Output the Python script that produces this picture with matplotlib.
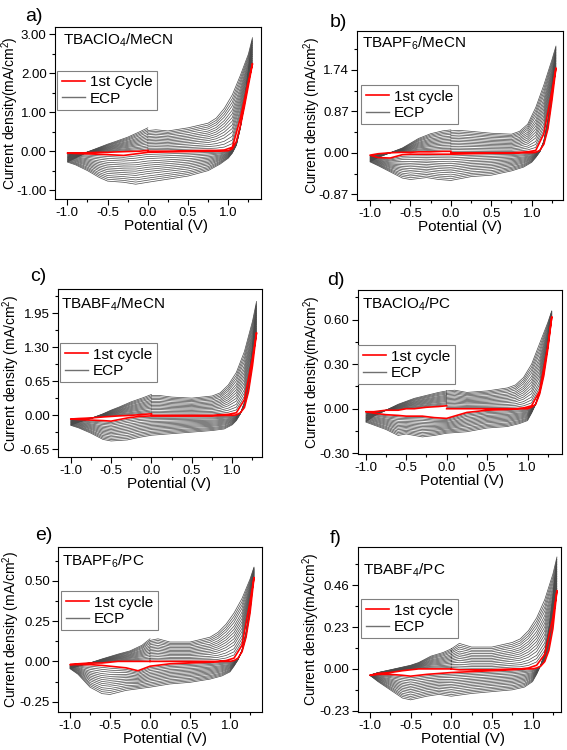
import numpy as np
import matplotlib
matplotlib.use("Agg")
import matplotlib.pyplot as plt
from matplotlib.lines import Line2D
from matplotlib.ticker import MultipleLocator, FixedLocator

plt.rcParams['font.family'] = ['Liberation Sans', 'DejaVu Sans']
plt.rcParams['mathtext.fontset'] = 'custom'
plt.rcParams['mathtext.rm'] = 'Liberation Sans'
plt.rcParams['mathtext.it'] = 'Liberation Sans:italic'
plt.rcParams['mathtext.default'] = 'regular'
plt.rcParams['axes.unicode_minus'] = False

# potentials (V) where currents were read off the picture
# each cycle: 0 -> 1.3 (up), 1.3 -> -1.0 (down), -1.0 -> 0 (back)
E_UP = [0.0, 0.1, 0.25, 0.5, 0.75, 0.85, 0.95, 1.05, 1.15, 1.25, 1.3]
E_DOWN = [1.3, 1.25, 1.2, 1.15, 1.1, 1.05, 1.0, 0.9, 0.75, 0.5, 0.25, 0.0,
          -0.15, -0.3, -0.5, -0.6, -0.75, -0.9, -1.0]
E_BACK = [-1.0, -0.9, -0.75, -0.6, -0.5, -0.4, -0.25, -0.1, 0.0]

# share of the way from the 1st cycle to the last ECP cycle, one per gray loop
CYCLE_FRAC = [0.07, 0.14, 0.21, 0.29, 0.36, 0.43, 0.50, 0.57, 0.64, 0.71,
              0.79, 0.86, 0.93, 1.00]

# a) TBAClO4/MeCN  (mA/cm2)
a_up = [0.53, 0.55, 0.52, 0.6, 0.72, 0.85, 1.1, 1.45, 1.95, 2.5, 2.92]
a_down = [2.92, 2.1, 1.3, 0.6, 0.15, -0.05, -0.18, -0.33, -0.5, -0.64, -0.72,
          -0.8, -0.85, -0.8, -0.77, -0.68, -0.5, -0.35, -0.28]
a_back = [-0.28, -0.18, -0.02, 0.1, 0.18, 0.25, 0.36, 0.5, 0.6]
a_red_up = [0.0, 0.0, 0.0, 0.01, 0.02, 0.02, 0.03, 0.1, 0.85, 1.8, 2.25]
a_red_down = [2.25, 1.7, 1.15, 0.65, 0.25, 0.06, 0.01, 0.0, 0.0, -0.01, -0.02,
              -0.03, -0.07, -0.11, -0.09, -0.08, -0.07, -0.06, -0.05]
a_red_back = [-0.05, -0.05, -0.04, -0.03, -0.03, -0.02, -0.01, 0.0, 0.02]

# b) TBAPF6/MeCN
b_up = [0.46, 0.47, 0.45, 0.41, 0.39, 0.45, 0.6, 0.95, 1.42, 1.95, 2.24]
b_down = [2.24, 1.4, 0.7, 0.25, 0.02, -0.1, -0.2, -0.3, -0.38, -0.47, -0.5,
          -0.58, -0.56, -0.52, -0.56, -0.53, -0.4, -0.27, -0.19]
b_back = [-0.19, -0.1, 0.0, 0.1, 0.2, 0.3, 0.4, 0.46, 0.48]
b_red_up = [0.0, 0.0, 0.0, 0.0, 0.0, 0.01, 0.02, 0.05, 0.4, 1.3, 1.78]
b_red_down = [1.78, 1.1, 0.5, 0.18, 0.05, 0.01, 0.0, 0.0, -0.01, -0.01, -0.02,
              -0.03, -0.03, -0.03, -0.03, -0.04, -0.11, -0.1, -0.05]
b_red_back = [-0.05, -0.02, 0.0, 0.01, 0.01, 0.02, 0.02, 0.03, 0.03]

# c) TBABF4/MeCN
c_up = [0.38, 0.38, 0.35, 0.33, 0.37, 0.43, 0.58, 0.82, 1.22, 1.8, 2.18]
c_down = [2.18, 1.3, 0.65, 0.25, 0.03, -0.1, -0.18, -0.26, -0.29, -0.32, -0.35,
          -0.38, -0.42, -0.47, -0.49, -0.46, -0.34, -0.24, -0.19]
c_back = [-0.19, -0.13, -0.06, 0.03, 0.1, 0.16, 0.26, 0.34, 0.4]
c_red_up = [0.0, 0.0, 0.0, 0.0, 0.0, 0.01, 0.02, 0.05, 0.3, 1.1, 1.58]
c_red_down = [1.58, 0.95, 0.45, 0.15, 0.05, 0.01, 0.0, 0.0, -0.01, -0.01, -0.01,
              -0.01, -0.02, -0.05, -0.11, -0.1, -0.09, -0.08, -0.07]
c_red_back = [-0.07, -0.06, -0.05, -0.03, -0.02, -0.01, 0.0, 0.02, 0.03]

# d) TBAClO4/PC
d_up = [0.12, 0.125, 0.11, 0.12, 0.14, 0.16, 0.21, 0.3, 0.44, 0.58, 0.66]
d_down = [0.66, 0.45, 0.28, 0.12, 0.03, -0.03, -0.08, -0.1, -0.12, -0.13, -0.155,
          -0.165, -0.18, -0.19, -0.17, -0.18, -0.14, -0.11, -0.09]
d_back = [-0.09, -0.05, -0.01, 0.03, 0.05, 0.07, 0.09, 0.11, 0.12]
d_red_up = [0.0, 0.0, 0.0, 0.0, 0.0, 0.0, 0.005, 0.02, 0.12, 0.42, 0.62]
d_red_down = [0.62, 0.4, 0.22, 0.1, 0.03, 0.01, 0.0, 0.0, -0.005, -0.01, -0.025,
              -0.065, -0.06, -0.05, -0.05, -0.045, -0.04, -0.03, -0.02]
d_red_back = [-0.02, -0.02, -0.01, -0.01, 0.0, 0.0, 0.01, 0.015, 0.02]

# e) TBAPF6/PC
e_up = [0.13, 0.14, 0.12, 0.12, 0.15, 0.18, 0.23, 0.3, 0.39, 0.51, 0.585]
e_down = [0.585, 0.35, 0.18, 0.07, 0.01, -0.03, -0.065, -0.09, -0.11, -0.13, -0.14,
          -0.16, -0.17, -0.18, -0.205, -0.2, -0.16, -0.08, -0.045]
e_back = [-0.045, -0.03, -0.01, 0.015, 0.03, 0.045, 0.065, 0.1, 0.14]
e_red_up = [0.0, 0.0, 0.0, 0.0, 0.0, 0.0, 0.005, 0.02, 0.1, 0.37, 0.52]
e_red_down = [0.52, 0.3, 0.15, 0.06, 0.02, 0.005, 0.0, 0.0, -0.005, -0.01, -0.015,
              -0.03, -0.058, -0.04, -0.03, -0.025, -0.02, -0.02, -0.02]
e_red_back = [-0.02, -0.015, -0.01, -0.01, -0.005, 0.0, 0.0, 0.0, 0.0]

# f) TBABF4/PC
f_up = [0.11, 0.14, 0.12, 0.12, 0.145, 0.165, 0.21, 0.28, 0.38, 0.52, 0.615]
f_down = [0.615, 0.4, 0.22, 0.09, 0.02, -0.03, -0.07, -0.1, -0.115, -0.125, -0.135,
          -0.15, -0.14, -0.15, -0.17, -0.16, -0.115, -0.07, -0.035]
f_back = [-0.035, -0.02, -0.005, 0.01, 0.02, 0.035, 0.07, 0.09, 0.11]
f_red_up = [0.0, -0.005, -0.005, -0.005, 0.0, 0.0, 0.005, 0.02, 0.08, 0.28, 0.43]
f_red_down = [0.43, 0.22, 0.1, 0.04, 0.015, 0.005, 0.0, 0.0, -0.005, -0.01, -0.015,
              -0.02, -0.025, -0.03, -0.04, -0.035, -0.03, -0.03, -0.035]
f_red_back = [-0.035, -0.025, -0.02, -0.01, -0.005, 0.0, 0.0, 0.0, 0.0]

letters = ['a)', 'b)', 'c)', 'd)', 'e)', 'f)']
titles = ['TBAClO$_4$/MeCN', 'TBAPF$_6$/MeCN', 'TBABF$_4$/MeCN',
          'TBAClO$_4$/PC', 'TBAPF$_6$/PC', 'TBABF$_4$/PC']
first_labels = ['1st Cycle', '1st cycle', '1st cycle', '1st cycle', '1st cycle', '1st cycle']
ylabels = ['Current density(mA/cm$^2$)', 'Current density (mA/cm$^2$)',
           'Current density (mA/cm$^2$)', 'Current density(mA/cm$^2$)',
           'Current density (mA/cm$^2$)', 'Current density(mA/cm$^2$)']
yticks = [[-1.0, 0.0, 1.0, 2.0, 3.0], [-0.87, 0.0, 0.87, 1.74],
          [-0.65, 0.0, 0.65, 1.30, 1.95], [-0.30, 0.0, 0.30, 0.60],
          [-0.25, 0.0, 0.25, 0.50], [-0.23, 0.0, 0.23, 0.46]]
ylims = [(-1.23, 3.2), (-0.99, 2.56), (-0.79, 2.41), (-0.305, 0.80),
         (-0.312, 0.711), (-0.235, 0.671)]
xlims = [(-1.153, 1.406), (-1.157, 1.387), (-1.153, 1.364), (-1.10, 1.43),
         (-1.146, 1.396), (-1.15, 1.35)]

panels = [(a_up, a_down, a_back, a_red_up, a_red_down, a_red_back),
          (b_up, b_down, b_back, b_red_up, b_red_down, b_red_back),
          (c_up, c_down, c_back, c_red_up, c_red_down, c_red_back),
          (d_up, d_down, d_back, d_red_up, d_red_down, d_red_back),
          (e_up, e_down, e_back, e_red_up, e_red_down, e_red_back),
          (f_up, f_down, f_back, f_red_up, f_red_down, f_red_back)]

# layout in pixels (left, top, right, bottom)
boxes = [(55, 26.7, 261, 199), (357.3, 30.7, 563, 200),
         (58.3, 289.3, 261.7, 456.7), (357.7, 290, 562.3, 454),
         (58.3, 546.7, 261.7, 711.7), (357.7, 546.7, 561, 711.7)]
letter_pos = [(25, 21), (330, 27), (30, 281), (327, 285), (35, 540), (330, 543)]
title_pos = [(62.7, 44.3), (361.7, 47.7), (61, 308.3), (361.7, 308.7),
             (61.7, 566), (363.3, 575)]
legend_pos = [(57, 70.7), (361, 85), (60, 343), (358, 345), (61, 591), (361, 599)]
ylabel_x = [21, 323, 22.3, 323, 22.3, 322]
xlabel_x = [166, 460, 169, 462, 165, 463]

W, H = 567, 750
fig = plt.figure(figsize=(W / 100, H / 100), dpi=100)

E_LOOP = np.concatenate([E_UP, E_DOWN[1:], E_BACK[1:]])


def loop(up, down, back):
    return np.concatenate([up, down[1:], back[1:]])


for i in range(6):
    l, t, r, b = boxes[i]
    ax = fig.add_axes([l / W, 1 - b / H, (r - l) / W, (b - t) / H])
    up, down, back, rup, rdown, rback = panels[i]
    outer = loop(up, down, back)
    red = loop(rup, rdown, rback)
    for fr in CYCLE_FRAC:
        ax.plot(E_LOOP, red + fr * (outer - red), color='#4a4a4a', lw=0.5)
    ax.plot(E_LOOP, red, color='#ff0000', lw=1.2)

    ax.set_xlim(*xlims[i])
    ax.set_ylim(*ylims[i])
    ax.xaxis.set_major_locator(FixedLocator([-1.0, -0.5, 0.0, 0.5, 1.0]))
    ax.xaxis.set_minor_locator(MultipleLocator(0.25))
    yt = yticks[i]
    ax.yaxis.set_major_locator(FixedLocator(yt))
    step = yt[1] - yt[0]
    ax.yaxis.set_minor_locator(FixedLocator([v + step / 2 for v in yt[:-1]] + [yt[-1] + step / 2]))
    ax.set_xticklabels(['%.1f' % v for v in [-1.0, -0.5, 0.0, 0.5, 1.0]])
    ax.set_yticklabels(['%.2f' % v for v in yt])
    ax.tick_params(which='major', direction='out', length=4, width=0.8, pad=2,
                   labelsize=9.5, top=False, right=False)
    ax.tick_params(which='minor', direction='out', length=2.5, width=0.8,
                   top=False, right=False)
    for sp in ax.spines.values():
        sp.set_linewidth(0.8)

    ax.set_xlabel('Potential (V)', fontsize=11, labelpad=0)
    ax.xaxis.label.set_x((xlabel_x[i] - l) / (r - l))
    ax.set_ylabel(ylabels[i], fontsize=10)
    ax.yaxis.set_label_coords((ylabel_x[i] - l) / (r - l), 0.5)

    handles = [Line2D([], [], color='#ff0000', lw=1.2),
               Line2D([], [], color='#707070', lw=1.0)]
    lx, ly = legend_pos[i]
    leg = ax.legend(handles, [first_labels[i], 'ECP'], loc='upper left',
                    bbox_to_anchor=(lx / W, 1 - ly / H), bbox_transform=fig.transFigure,
                    borderaxespad=0, fontsize=11, fancybox=False, edgecolor='#808080',
                    handlelength=1.5, handletextpad=0.35, borderpad=0.3,
                    labelspacing=0.15, framealpha=1)
    leg.get_frame().set_linewidth(0.8)

    tx, ty = title_pos[i]
    fig.text(tx / W, 1 - ty / H, titles[i], fontsize=11, va='baseline', ha='left')
    px, py = letter_pos[i]
    fig.text(px / W, 1 - py / H, letters[i], fontsize=14, va='baseline', ha='left')

fig.savefig('out.png', dpi=100)
